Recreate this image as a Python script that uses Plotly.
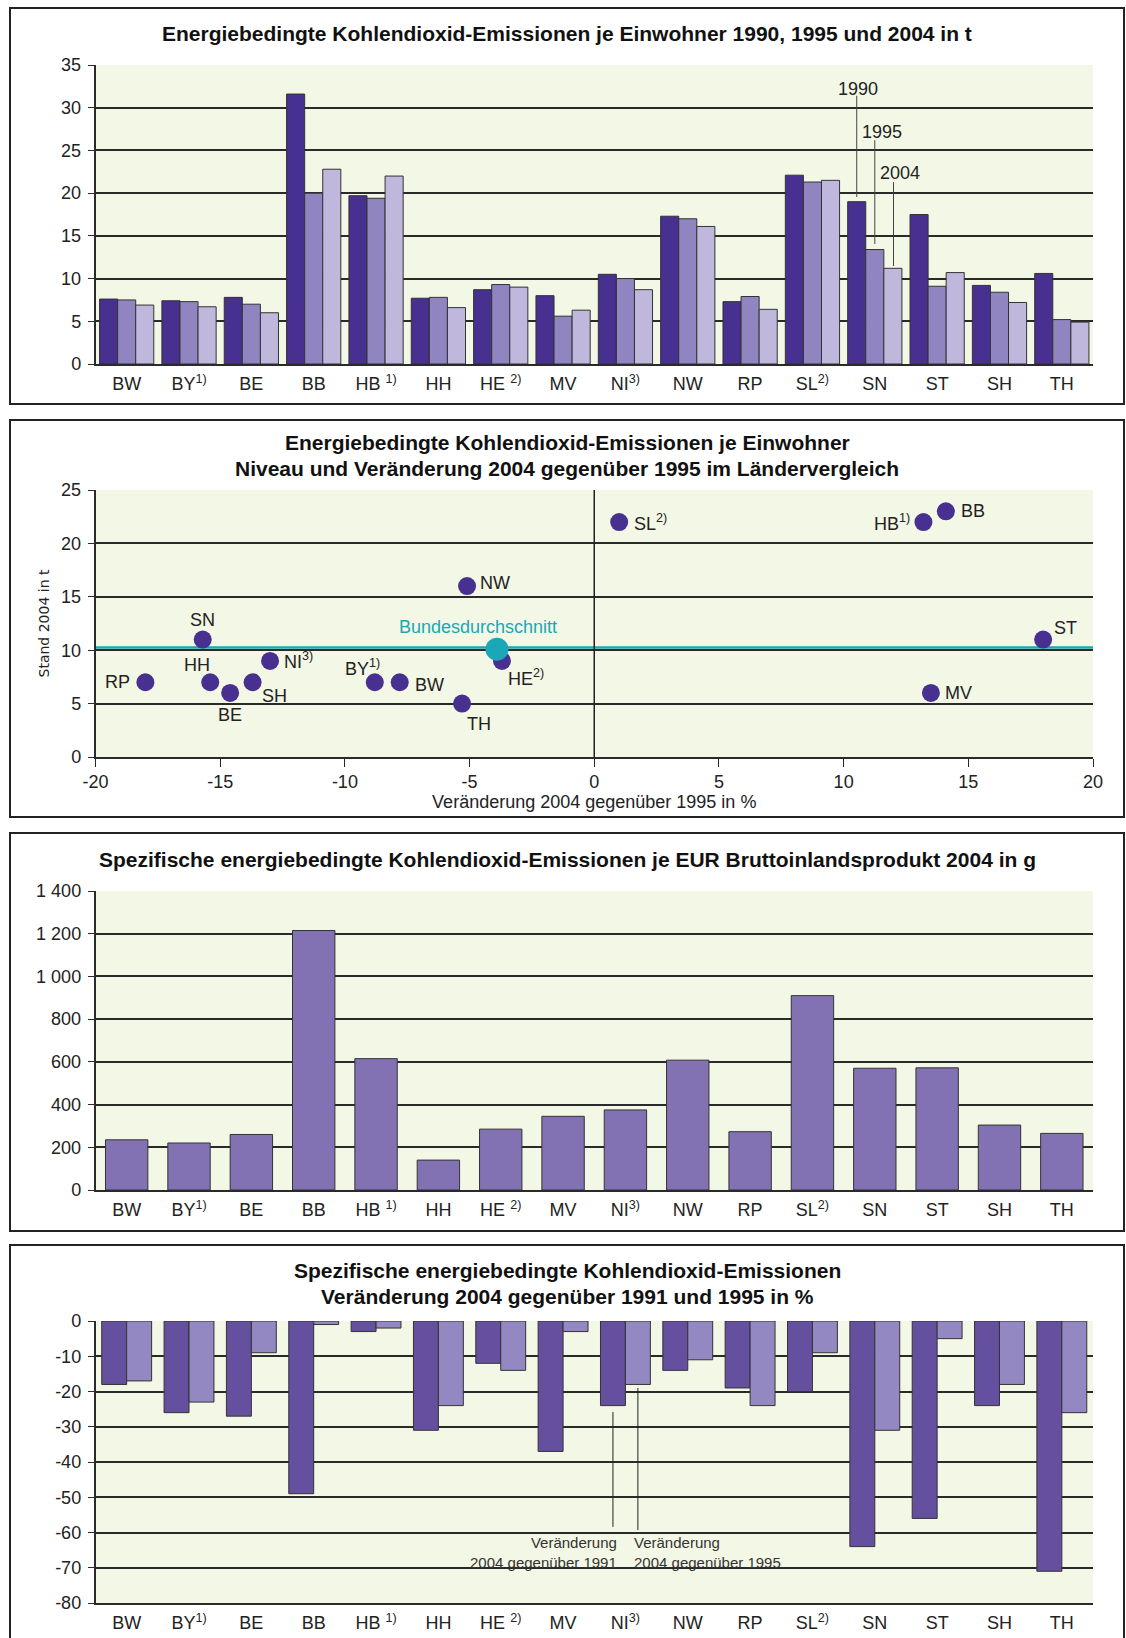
import plotly.graph_objects as go

W, H = 1126, 1638

# Länder und Achsenbeschriftungen
laender = ["BW", "BY", "BE", "BB", "HB", "HH", "HE", "MV", "NI", "NW", "RP", "SL", "SN", "ST", "SH", "TH"]
tick_labels = ["BW", "BY<sup>1)</sup>", "BE", "BB", "HB <sup>1)</sup>", "HH", "HE <sup>2)</sup>", "MV",
               "NI<sup>3)</sup>", "NW", "RP", "SL<sup>2)</sup>", "SN", "ST", "SH", "TH"]

# Panel 1: CO2 je Einwohner in t
ew_1990 = [7.6, 7.4, 7.8, 31.6, 19.7, 7.7, 8.7, 8.0, 10.5, 17.3, 7.3, 22.1, 19.0, 17.5, 9.2, 10.6]
ew_1995 = [7.5, 7.3, 7.0, 20.0, 19.4, 7.8, 9.3, 5.6, 10.0, 17.0, 7.9, 21.3, 13.4, 9.1, 8.4, 5.2]
ew_2004 = [6.9, 6.7, 6.0, 22.8, 22.0, 6.6, 9.0, 6.3, 8.7, 16.1, 6.4, 21.5, 11.2, 10.7, 7.2, 4.9]

# Panel 2: Niveau und Veränderung 2004 gegenüber 1995
veraenderung_pct = [-7.8, -8.8, -14.6, 14.1, 13.2, -15.4, -3.7, 13.5, -13.0, -5.1, -18.0, 1.0, -15.7, 18.0, -13.7, -5.3]
stand_2004 = [7, 7, 6, 23, 22, 7, 9, 6, 9, 16, 7, 22, 11, 11, 7, 5]
punkt_labels = ["BW", "BY<sup>1)</sup>", "BE", "BB", "HB<sup>1)</sup>", "HH", "HE<sup>2)</sup>", "MV",
                "NI<sup>3)</sup>", "NW", "RP", "SL<sup>2)</sup>", "SN", "ST", "SH", "TH"]
bund_x, bund_y, bund_linie = -3.9, 10.1, 10.25
x2_ticks = [-20, -15, -10, -5, 0, 5, 10, 15, 20]

# Panel 3: g je EUR BIP 2004
bip_2004 = [235, 220, 260, 1215, 615, 140, 285, 345, 375, 608, 273, 910, 570, 572, 304, 265]
y3_ticks = [0, 200, 400, 600, 800, 1000, 1200, 1400]
y3_text = ["0", "200", "400", "600", "800", "1 000", "1 200", "1 400"]

# Panel 4: Veränderung in %
spez_91_04 = [-18, -26, -27, -49, -3, -31, -12, -37, -24, -14, -19, -20, -64, -56, -24, -71]
spez_95_04 = [-17, -23, -9, -1, -2, -24, -14, -3, -18, -11, -24, -9, -31, -5, -18, -26]
y4_ticks = [0, -10, -20, -30, -40, -50, -60, -70, -80]

FONT = "Liberation Sans, Arial, sans-serif"
GRID = "#2a2a2a"
BG = "#F3F7E5"


def py(p):
    return 1 - p / H


xdom = [95.5 / W, 1093 / W]

fig = go.Figure()

edge = dict(color="#333", width=1)
for vals, col, off in [(ew_1990, "#47308F", -0.435), (ew_1995, "#9085C0", -0.145), (ew_2004, "#BFB8DC", 0.145)]:
    fig.add_trace(go.Bar(x=laender, y=vals, width=0.29, offset=off, marker=dict(color=col, line=edge),
                         xaxis="x", yaxis="y", showlegend=False))

fig.add_trace(go.Scatter(x=veraenderung_pct, y=stand_2004, mode="markers", xaxis="x2", yaxis="y2",
                         marker=dict(size=18, color="#47308F"), showlegend=False))
fig.add_trace(go.Scatter(x=[bund_x], y=[bund_y], mode="markers", xaxis="x2", yaxis="y2",
                         marker=dict(size=23, color="#1AA7B8"), showlegend=False))

fig.add_trace(go.Bar(x=laender, y=bip_2004, width=0.68, offset=-0.34, marker=dict(color="#8272B4", line=edge),
                     xaxis="x3", yaxis="y3", showlegend=False))

for vals, col, off in [(spez_91_04, "#64509F", -0.4), (spez_95_04, "#9488C2", 0.0)]:
    fig.add_trace(go.Bar(x=laender, y=vals, width=0.4, offset=off, marker=dict(color=col, line=edge),
                         xaxis="x4", yaxis="y4", showlegend=False))

tickf = dict(family=FONT, size=18, color="#222")


def cat_x(anchor):
    return dict(type="category", categoryorder="array", categoryarray=laender, tickvals=laender,
                ticktext=tick_labels, range=[-0.5, 15.5], domain=xdom, anchor=anchor, showgrid=False,
                showline=True, linecolor=GRID, linewidth=1.5, ticks="", tickfont=tickf, ticklabelstandoff=3,
                automargin=False)


def val_y(dom, rng, dtick, anchor, **kw):
    d = dict(domain=dom, range=rng, dtick=dtick, anchor=anchor, showgrid=True, gridcolor=GRID, gridwidth=1.5,
             showline=True, linecolor=GRID, linewidth=1.5, ticks="outside", ticklen=6, tickcolor=GRID,
             tickfont=tickf, zeroline=False, ticklabelstandoff=3, automargin=False)
    d.update(kw)
    return d


shapes = []
# Rahmen der vier Teilgrafiken
for y0, y1 in [(8, 404), (420, 817), (833, 1231), (1245, 1700)]:
    shapes.append(dict(type="rect", xref="paper", yref="paper", x0=10 / W, x1=1124 / W, y0=py(y1), y1=py(y0),
                       line=dict(color="#222", width=2)))
# Panel 2: Nulllinie und Bundesdurchschnitt
shapes.append(dict(type="line", xref="x2", yref="y2", x0=0, x1=0, y0=0, y1=25, line=dict(color="#222", width=1.5)))
shapes.append(dict(type="line", xref="x2", yref="y2", x0=-20, x1=20, y0=bund_linie, y1=bund_linie,
                   line=dict(color="#1AA7B8", width=2.5), layer="below"))
# Panel 1: Legendenlinien
for x, ya, yb in [(11.71, 19.55, 31.4), (12.0, 14.05, 26.2), (12.3, 11.47, 21.3)]:
    shapes.append(dict(type="line", xref="x", yref="y", x0=x, x1=x, y0=ya, y1=yb, line=dict(color="#444", width=1)))
# Panel 4: Legendenlinien
for x, ya, yb in [(7.8, -25.8, -58.4), (8.2, -19.0, -59.3)]:
    shapes.append(dict(type="line", xref="x4", yref="y4", x0=x, x1=x, y0=ya, y1=yb, line=dict(color="#222", width=1)))

ann = []
titlef = dict(family=FONT, size=21, color="#111")
for txt, ypx in [("<b>Energiebedingte Kohlendioxid-Emissionen je Einwohner 1990, 1995 und 2004 in t</b>", 33),
                 ("<b>Energiebedingte Kohlendioxid-Emissionen je Einwohner</b>", 443),
                 ("<b>Niveau und Veränderung 2004 gegenüber 1995 im Ländervergleich</b>", 469),
                 ("<b>Spezifische energiebedingte Kohlendioxid-Emissionen je EUR Bruttoinlandsprodukt 2004 in g</b>", 859),
                 ("<b>Spezifische energiebedingte Kohlendioxid-Emissionen</b>", 1270),
                 ("<b>Veränderung 2004 gegenüber 1991 und 1995 in %</b>", 1296)]:
    ann.append(dict(text=txt, xref="paper", yref="paper", x=567 / W, y=py(ypx), showarrow=False,
                    xanchor="center", yanchor="middle", font=titlef))

lblf = dict(family=FONT, size=18, color="#222")
for txt, x, y in [("1990", 11.73, 32.2), ("1995", 12.12, 27.2), ("2004", 12.41, 22.4)]:
    ann.append(dict(text=txt, xref="x", yref="y", x=x, y=y, showarrow=False, font=lblf))

# Beschriftung der Punkte: (xanchor, xshift, yshift)
lage = {"BW": ("left", 13, -3), "BY": ("center", -12, 15), "BE": ("center", 0, -22), "BB": ("left", 13, 0),
        "HB": ("right", -11, 0), "HH": ("center", -13, 17), "HE": ("center", 24, -17), "MV": ("left", 12, 0),
        "NI": ("left", 12, 0), "NW": ("left", 11, 3), "RP": ("right", -13, 0), "SL": ("left", 13, 0),
        "SN": ("center", 0, 20), "ST": ("center", 22, 12), "SH": ("center", 22, -14), "TH": ("center", 17, -20)}
for land, txt, x, y in zip(laender, punkt_labels, veraenderung_pct, stand_2004):
    xa, xs, ys = lage[land]
    ann.append(dict(text=txt, xref="x2", yref="y2", x=x, y=y, xanchor=xa, yanchor="middle", xshift=xs, yshift=ys,
                    showarrow=False, font=lblf))
ann.append(dict(text="Bundesdurchschnitt", xref="x2", yref="y2", x=bund_x, y=bund_y, xshift=-19, yshift=22,
                showarrow=False, font=dict(family=FONT, size=18, color="#1AA7B8")))

notef = dict(family=FONT, size=15, color="#333")
ann.append(dict(text="Veränderung<br>2004 gegenüber 1991", xref="x4", yref="y4", x=7.89, y=-65.7, xanchor="right",
                align="right", showarrow=False, font=notef))
ann.append(dict(text="Veränderung<br>2004 gegenüber 1995", xref="x4", yref="y4", x=8.1, y=-65.7, xanchor="left",
                align="left", showarrow=False, font=notef))

fig.update_layout(
    width=W, height=H, margin=dict(l=0, r=0, t=0, b=0, autoexpand=False), paper_bgcolor="white", plot_bgcolor=BG,
    barmode="overlay", font=dict(family=FONT, color="#222"),
    xaxis=cat_x("y"),
    yaxis=val_y([py(364), py(65)], [0, 35], 5, "x"),
    xaxis2=dict(domain=xdom, anchor="y2", range=[-20, 20], tickvals=x2_ticks, ticktext=[str(v) for v in x2_ticks],
                showgrid=False, zeroline=False, showline=True, automargin=False,
                linecolor=GRID, linewidth=1.5, ticks="outside", ticklen=8, tickcolor=GRID, tickfont=tickf,
                title=dict(text="Veränderung 2004 gegenüber 1995 in %", font=dict(family=FONT, size=18, color="#222"),
                           standoff=0)),
    yaxis2=val_y([py(757), py(490)], [0, 25], 5, "x2",
                 title=dict(text="Stand 2004 in t", font=dict(family="DejaVu Sans, sans-serif", size=14, color="#222"),
                            standoff=8)),
    xaxis3=cat_x("y3"),
    yaxis3=val_y([py(1190), py(891)], [0, 1400], 200, "x3", tickvals=y3_ticks, ticktext=y3_text),
    xaxis4=cat_x("y4"),
    yaxis4=val_y([py(1603), py(1321)], [-80, 0], 10, "x4", tickvals=y4_ticks, ticktext=[str(v) for v in y4_ticks]),
    shapes=shapes, annotations=ann,
)

fig.write_html("out.html", config={"displayModeBar": False}, post_script="document.body.style.margin='0';")
